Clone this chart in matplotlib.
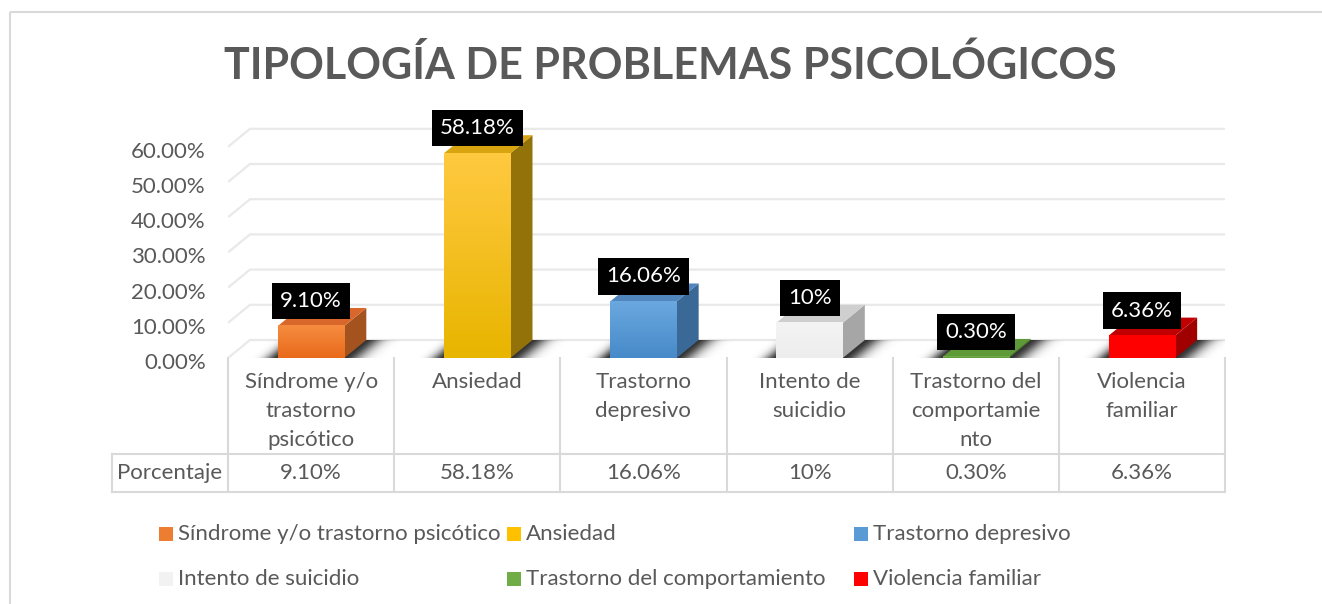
import numpy as np
import matplotlib
matplotlib.use("Agg")
import matplotlib.pyplot as plt
from matplotlib.patches import Polygon, Rectangle
from matplotlib.colors import LinearSegmentedColormap
from matplotlib.transforms import blended_transform_factory, ScaledTranslation

plt.rcParams['font.family'] = ['Lato', 'DejaVu Sans']

# Datos del grafico
titulo = "TIPOLOGÍA DE PROBLEMAS PSICOLÓGICOS"
categorias = ["Síndrome y/o trastorno psicótico", "Ansiedad", "Trastorno depresivo",
              "Intento de suicidio", "Trastorno del comportamiento", "Violencia familiar"]
etiquetas_eje = ["Síndrome y/o\ntrastorno\npsicótico", "Ansiedad", "Trastorno\ndepresivo",
                 "Intento de\nsuicidio", "Trastorno del\ncomportamie\nnto", "Violencia\nfamiliar"]
porcentajes = [9.10, 58.18, 16.06, 10.0, 0.30, 6.36]
etiquetas_valor = ["9.10%", "58.18%", "16.06%", "10%", "0.30%", "6.36%"]
ticks_y = [0, 10, 20, 30, 40, 50, 60]
serie = "Porcentaje"

# colores: (frente arriba, frente abajo, lado, tapa, leyenda)
colores = [
    ("#F68C40", "#E96A1A", "#A4521E", "#D9662A", "#ED7D31"),
    ("#FFC940", "#E8B500", "#94720A", "#D8A410", "#FFC000"),
    ("#6AA8DF", "#478AC9", "#3A6997", "#4F86BE", "#5B9BD5"),
    ("#F4F4F4", "#EDEDED", "#A6A6A6", "#CFCFCF", "#F2F2F2"),
    ("#74B04B", "#5E9A38", "#4A7A2C", "#5E9A38", "#70AD47"),
    ("#FF0000", "#FF0000", "#A00000", "#C00000", "#FF0000"),
]
texto = "#595959"
linea = "#D9D9D9"
FS = 16

W, H = 1322, 604
fig = plt.figure(figsize=(W / 100, H / 100), dpi=100, facecolor="white")

# capa en pixeles para titulo, borde, tabla y leyenda
lay = fig.add_axes([0, 0, 1, 1])
lay.set_xlim(0, W)
lay.set_ylim(H, 0)
lay.axis("off")

X0, X1, Y0, YT = 228, 1225, 358, 100
PX_PCT = 3.52
CAT_PX = (X1 - X0) / len(categorias)
DX = 22 / CAT_PX
DY = 18 / PX_PCT
BW = 0.40

ax = fig.add_axes([X0 / W, 1 - Y0 / H, (X1 - X0) / W, (Y0 - YT) / H])
ax.patch.set_alpha(0)
for s in ax.spines.values():
    s.set_visible(False)

# rejilla en la pared del fondo
for v in ticks_y:
    ax.plot([-0.5, -0.5 + DX, len(categorias) - 0.5 + DX], [v, v + DY, v + DY],
            color="#E9E9E9", lw=1.6, zorder=1, solid_capstyle="butt")

# sombras difusas en el suelo
for i, v in enumerate(porcentajes):
    xl, xr = i - BW / 2, i + BW / 2
    gx = np.linspace(i - 0.5, i + 0.5 + DX, 200)
    gy = np.linspace(0, DY, 30)
    XX, YY = np.meshgrid(gx, gy)
    t = YY / DY
    izq = xl + t * DX - XX
    der = XX - (xr + t * DX)
    alfa = np.where(izq > 0, np.exp(-(izq / 0.075) ** 2), 1.0)
    alfa = np.where(der > 0, np.exp(-(der / 0.10) ** 2), alfa)
    img = np.zeros(XX.shape + (4,))
    img[..., 3] = 0.8 * alfa
    im = ax.imshow(img, extent=[gx[0], gx[-1], 0, DY], origin="lower", aspect="auto",
                   zorder=2, interpolation="bilinear")
    suelo = Polygon([(i - 0.5, 0), (i + 0.5, 0), (i + 0.5 + DX, DY), (i - 0.5 + DX, DY)],
                    closed=True, transform=ax.transData)
    im.set_clip_path(suelo)

# barras 3D
for i, v in enumerate(porcentajes):
    c_top, c_bot, c_side, c_cap, _ = colores[i]
    xl, xr = i - BW / 2, i + BW / 2
    grad = np.linspace(0, 1, 64).reshape(-1, 1)
    cm = LinearSegmentedColormap.from_list("f%d" % i, [c_bot, c_top])
    ax.imshow(grad, extent=[xl, xr, 0, v], origin="lower", aspect="auto", cmap=cm,
              zorder=4, interpolation="bilinear")
    lado = Polygon([(xr, 0), (xr + DX, DY), (xr + DX, v + DY), (xr, v)], closed=True,
                   fc=c_side, ec="none", zorder=3)
    ax.add_patch(lado)
    tapa = Polygon([(xl, v), (xr, v), (xr + DX, v + DY), (xl + DX, v + DY)], closed=True,
                   fc=c_cap, ec="none", zorder=3)
    ax.add_patch(tapa)
    ax.annotate(etiquetas_valor[i], xy=(i, v), xytext=(0, 18), textcoords="offset points",
                ha="center", va="center", fontsize=FS, color="white", zorder=6,
                bbox=dict(boxstyle="square,pad=0.37", fc="black", ec="none"))

ax.set_xlim(-0.5, len(categorias) - 0.5)
ax.set_ylim(0, (Y0 - YT) / PX_PCT)
ax.set_xticks([])
ax.set_yticks(ticks_y)
ax.set_yticklabels(["%.2f%%" % t for t in ticks_y], fontsize=FS, color=texto, va="center_baseline")
ax.tick_params(axis="y", length=0, pad=16)
baja = ScaledTranslation(0, -3 / 100, fig.dpi_scale_trans)
for lbl in ax.get_yticklabels():
    lbl.set_transform(lbl.get_transform() + baja)

# titulo y borde
lay.text(670, 79, titulo, ha="center", va="baseline", fontsize=31,
         fontweight="bold", color=texto)
lay.add_patch(Rectangle((10, 12), W, H, fill=False, ec=linea, lw=1.5))

# tabla de datos
tr = blended_transform_factory(ax.transData, lay.transData)
for k in range(len(categorias) + 1):
    lay.plot([k - 0.5, k - 0.5], [Y0, 492], color=linea, lw=1.5, transform=tr)
lay.plot([112, X1], [454, 454], color=linea, lw=1.5)
lay.plot([112, X1], [492, 492], color=linea, lw=1.5)
lay.plot([112, 112], [454, 492], color=linea, lw=1.5)
lay.text((112 + X0) / 2, 473, serie, ha="center", va="center", fontsize=FS, color=texto)
for i, lab in enumerate(etiquetas_eje):
    lay.text(i, 372, lab, ha="center", va="top", fontsize=FS, color=texto,
             linespacing=1.55, transform=tr)
    lay.text(i, 473, etiquetas_valor[i], ha="center", va="center", fontsize=FS,
             color=texto, transform=tr)

# leyenda
for k, nombre in enumerate(categorias):
    col, fila = k % 3, k // 3
    lx = 159 + col * 347.5
    ly = 534 + fila * 45
    lay.add_patch(Rectangle((lx, ly - 7), 14, 14, fc=colores[k][4], ec="none"))
    lay.text(lx + 19, ly, nombre, ha="left", va="center", fontsize=FS, color=texto)

fig.savefig("out.png", dpi=100, facecolor="white")
